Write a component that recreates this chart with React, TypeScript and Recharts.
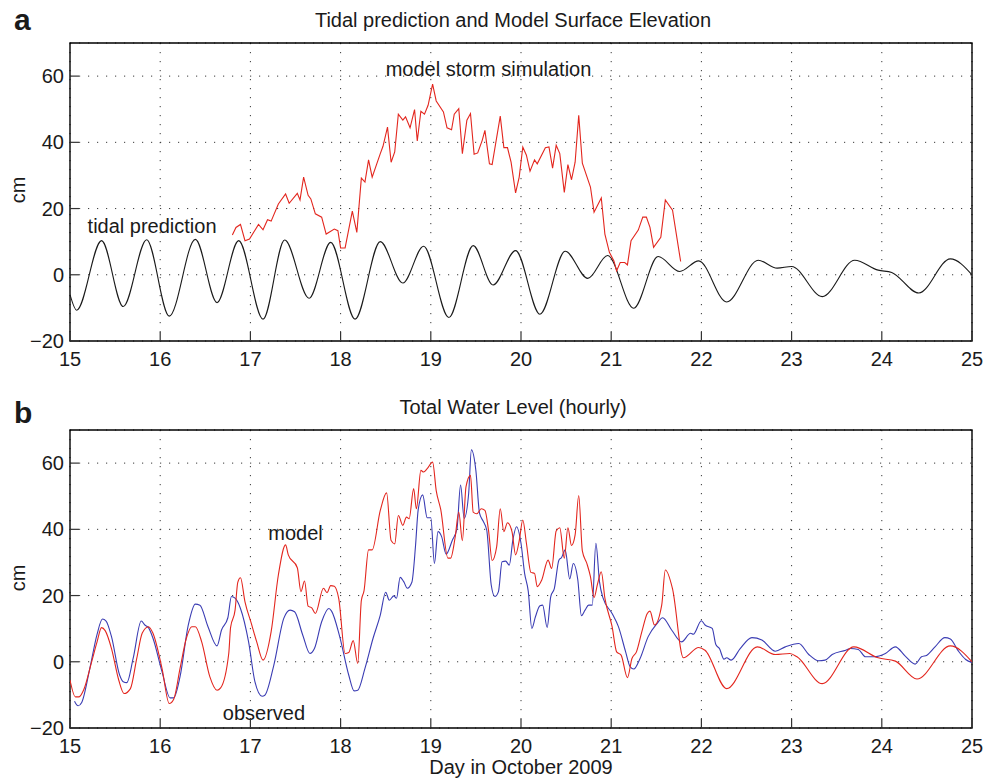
import { LineChart, Line, XAxis, YAxis, CartesianGrid, ReferenceDot, ReferenceArea } from "recharts";

// axes
const dayTicks = [15, 16, 17, 18, 19, 20, 21, 22, 23, 24, 25];
const cmTicks = [-20, 0, 20, 40, 60];

// panel a: tidal prediction (black)
const tideDays = [
  15.0, 15.074, 15.35, 15.59, 15.85, 16.1, 16.39, 16.63, 16.87, 17.14, 17.38, 17.65, 17.89, 18.16,
  18.44, 18.69, 18.92, 19.2, 19.47, 19.69, 19.94, 20.21, 20.49, 20.74, 20.96, 21.25, 21.52, 21.76,
  21.97, 22.28, 22.63, 22.84, 23.0, 23.34, 23.7, 23.96, 24.11, 24.41, 24.76, 25.0,
];
const tideCm = [
  -6, -10.7, 10.3, -9.6, 10.6, -12.5, 10.7, -8.4, 10.3, -13.4, 10.5, -7.1, 9.8, -13.4,
  10.0, -2.5, 8.6, -12.9, 8.8, -3.1, 7.3, -11.9, 7.1, -1.1, 5.8, -10.1, 5.5, 1.0,
  4.2, -8.2, 4.4, 2.0, 2.5, -6.6, 4.4, 1.4, 0.7, -5.5, 4.8, 0,
];

// panel a: model storm simulation (red)
const stormDays = [
  16.8, 16.84, 16.89, 16.94, 16.99, 17.09, 17.14, 17.19, 17.23, 17.31, 17.39, 17.43, 17.52, 17.55,
  17.59, 17.64, 17.67, 17.72, 17.79, 17.84, 17.93, 17.97, 18.0, 18.05, 18.13, 18.18, 18.23, 18.27,
  18.31, 18.35, 18.44, 18.47, 18.52, 18.56, 18.6, 18.64, 18.69, 18.72, 18.77, 18.82, 18.85, 18.89,
  18.93, 18.97, 19.02, 19.06, 19.14, 19.18, 19.23, 19.26, 19.31, 19.35, 19.4, 19.44, 19.48, 19.52,
  19.57, 19.6, 19.65, 19.68, 19.77, 19.81, 19.85, 19.89, 19.94, 19.98, 20.02, 20.06, 20.1, 20.15,
  20.18, 20.27, 20.31, 20.35, 20.39, 20.43, 20.48, 20.52, 20.56, 20.6, 20.64, 20.68, 20.77, 20.81,
  20.89, 20.93, 20.98, 21.03, 21.06, 21.1, 21.15, 21.18, 21.22, 21.3, 21.35, 21.39, 21.43, 21.47,
  21.55, 21.6, 21.68, 21.77,
];
const stormCm = [
  12.0, 14.3, 15.2, 10.3, 10.8, 15.2, 13.6, 16.6, 16.2, 21.4, 24.4, 21.6, 24.6, 22.6,
  29.5, 24.0, 22.9, 18.4, 17.4, 12.3, 13.8, 13.3, 8.1, 8.1, 19.2, 12.8, 29.2, 28.0,
  34.7, 29.5, 36.6, 38.8, 44.6, 34.0, 37.1, 48.5, 46.7, 47.7, 44.4, 49.9, 40.4, 49.4,
  48.5, 51.2, 57.6, 52.5, 49.2, 44.4, 43.8, 48.5, 50.2, 36.6, 46.7, 48.7, 36.4, 36.8,
  40.6, 43.6, 33.5, 33.3, 47.9, 38.4, 38.4, 34.0, 24.7, 29.5, 38.6, 36.1, 31.3, 34.7,
  33.5, 38.4, 38.6, 32.2, 39.1, 36.6, 24.9, 33.3, 28.7, 34.0, 48.2, 33.7, 26.5, 18.9,
  23.2, 12.3, 6.8, 4.2, 1.2, 3.7, 3.7, 3.0, 10.3, 13.5, 17.4, 17.4, 14.3, 8.3,
  11.3, 22.6, 19.5, 4.0,
];

// panel b: model total water level (red)
const modelDays = [
  15.0, 15.06, 15.1, 15.15, 15.24, 15.3, 15.35, 15.39, 15.46, 15.54, 15.6, 15.67, 15.74, 15.8,
  15.87, 15.92, 16.02, 16.1, 16.15, 16.22, 16.29, 16.35, 16.39, 16.46, 16.55, 16.63, 16.67, 16.76,
  16.78, 16.83, 16.86, 16.89, 16.94, 17.01, 17.07, 17.14, 17.23, 17.31, 17.39, 17.42, 17.52, 17.56,
  17.6, 17.64, 17.68, 17.72, 17.81, 17.85, 17.89, 17.93, 17.98, 18.05, 18.09, 18.14, 18.19, 18.23,
  18.26, 18.31, 18.35, 18.44, 18.51, 18.56, 18.6, 18.64, 18.69, 18.73, 18.76, 18.81, 18.84, 18.89,
  18.92, 18.96, 19.02, 19.06, 19.11, 19.19, 19.22, 19.27, 19.31, 19.35, 19.39, 19.44, 19.47, 19.51,
  19.56, 19.6, 19.64, 19.68, 19.73, 19.77, 19.81, 19.85, 19.9, 19.94, 19.98, 20.02, 20.06, 20.11,
  20.15, 20.18, 20.23, 20.3, 20.34, 20.39, 20.43, 20.48, 20.52, 20.56, 20.6, 20.64, 20.68, 20.73,
  20.77, 20.81, 20.85, 20.89, 20.93, 21.01, 21.06, 21.11, 21.18, 21.23, 21.28, 21.34, 21.4, 21.43,
  21.48, 21.56, 21.6, 21.68, 21.8, 21.97, 22.04, 22.28, 22.62, 22.82, 22.98, 23.06, 23.34, 23.69,
  23.96, 24.15, 24.39, 24.76, 25.0,
];
const modelCm = [
  -5.5, -10.6, -10.6, -8.6, 0, 6.0, 10.3, 9.4, 4.0, -5.5, -9.6, -8.1, 1.0, 8.6,
  10.6, 8.6, -2.0, -12.6, -11.3, -2.0, 7.1, 10.6, 10.6, 6.0, -4.5, -8.6, -7.9, 2.5,
  10.3, 15.6, 24.0, 25.4, 18.1, 11.6, 6.0, 0.5, 9.1, 26.2, 35.3, 32.3, 28.4, 21.2,
  24.4, 16.8, 16.3, 14.6, 22.2, 20.9, 23.0, 22.8, 19.0, 2.5, 2.8, 6.4, -0.5, 18.5,
  21.5, 33.8, 33.8, 45.7, 51.0, 36.6, 35.6, 44.2, 41.2, 43.7, 43.2, 52.3, 46.2, 57.8,
  57.3, 58.3, 60.3, 51.7, 46.0, 31.3, 31.3, 37.6, 45.2, 36.6, 52.8, 56.3, 45.2, 44.7,
  46.2, 45.7, 39.7, 30.6, 34.7, 46.2, 39.3, 42.0, 39.3, 32.3, 36.5, 42.8, 35.8, 27.0,
  26.7, 22.7, 24.7, 30.7, 28.2, 39.5, 40.5, 31.3, 40.5, 35.1, 38.3, 50.2, 33.5, 29.7,
  25.7, 19.4, 23.7, 27.2, 19.2, 10.6, 3.0, 2.0, -4.8, 1.0, 3.0, 9.1, 14.6, 15.3,
  11.1, 17.1, 27.7, 22.0, 1.2, 4.3, 3.5, -8.1, 4.5, 2.2, 2.5, 1.5, -6.6, 4.5,
  1.2, 0.2, -5.2, 4.8, 0,
];

// panel b: observed total water level (blue)
const obsDays = [
  15.05, 15.09, 15.13, 15.22, 15.3, 15.36, 15.4, 15.46, 15.55, 15.59, 15.63, 15.7, 15.79, 15.83,
  15.87, 15.92, 16.02, 16.11, 16.15, 16.22, 16.31, 16.39, 16.44, 16.53, 16.63, 16.68, 16.75, 16.79,
  16.83, 16.89, 16.98, 17.05, 17.13, 17.16, 17.26, 17.37, 17.44, 17.49, 17.58, 17.66, 17.71, 17.79,
  17.87, 17.9, 17.99, 18.09, 18.15, 18.19, 18.27, 18.36, 18.44, 18.5, 18.54, 18.59, 18.62, 18.66,
  18.7, 18.74, 18.79, 18.83, 18.86, 18.91, 18.96, 19.0, 19.04, 19.08, 19.12, 19.17, 19.24, 19.29,
  19.33, 19.37, 19.42, 19.45, 19.5, 19.54, 19.58, 19.62, 19.67, 19.71, 19.75, 19.79, 19.83, 19.87,
  19.91, 19.95, 20.0, 20.04, 20.08, 20.12, 20.16, 20.21, 20.24, 20.29, 20.33, 20.37, 20.42, 20.45,
  20.49, 20.54, 20.58, 20.63, 20.67, 20.71, 20.75, 20.79, 20.83, 20.87, 20.91, 21.01, 21.08, 21.16,
  21.21, 21.25, 21.32, 21.41, 21.51, 21.57, 21.67, 21.78, 21.88, 21.91, 22.0, 22.04, 22.12, 22.16,
  22.2, 22.25, 22.28, 22.33, 22.43, 22.56, 22.67, 22.82, 22.93, 23.08, 23.19, 23.3, 23.37, 23.45,
  23.6, 23.65, 23.74, 23.82, 23.91, 24.04, 24.15, 24.26, 24.37, 24.44, 24.5, 24.59, 24.7, 24.76,
  24.85, 24.93, 25.0,
];
const obsCm = [
  -11.9, -13.3, -12.3, -2.0, 8.3, 12.9, 12.3, 7.6, -4.0, -6.0, -6.3, 1.0, 12.3, 11.1,
  10.3, 7.1, -3.0, -10.9, -10.9, -4.5, 10.9, 17.4, 17.1, 10.6, 4.8, 9.6, 13.3, 19.7,
  19.2, 16.1, 6.0, -6.0, -10.4, -10.1, -1.0, 13.1, 15.6, 15.1, 8.1, 2.5, 4.0, 12.1,
  16.1, 15.3, 7.6, -4.0, -8.8, -8.6, -2.0, 7.1, 14.1, 21.0, 18.6, 19.9, 19.2, 25.5,
  24.2, 22.2, 24.0, 34.8, 45.9, 50.4, 43.5, 43.5, 29.7, 39.3, 37.8, 32.5, 36.8, 40.1,
  53.4, 43.3, 50.9, 64.0, 57.7, 44.9, 42.5, 39.8, 23.2, 19.7, 21.2, 30.2, 30.4, 29.2,
  36.8, 40.8, 35.8, 26.7, 21.4, 10.1, 13.6, 16.9, 17.1, 10.4, 19.7, 22.2, 30.7, 31.5,
  33.8, 25.0, 29.7, 24.7, 13.9, 15.6, 17.1, 17.1, 35.8, 24.2, 19.2, 14.6, 10.6, 3.0,
  -1.5, -2.2, 1.0, 7.6, 11.6, 13.3, 9.6, 6.0, 8.6, 8.3, 12.4, 11.1, 10.1, 5.2,
  4.0, 0.8, 1.2, 0.5, 4.0, 7.3, 6.6, 3.2, 4.5, 5.5, 2.2, 0.3, 0.5, 2.2,
  3.5, 4.0, 3.7, 1.5, 1.5, 2.5, 4.5, 1.7, -0.7, 1.5, 2.0, 4.5, 7.3, 6.9,
  3.2, 0.7, -0.2,
];

const toPoints = (days: number[], cm: number[]) => days.map((d, i) => ({ day: d, cm: cm[i] }));

const font = "'Liberation Sans', Arial, Helvetica, sans-serif";
const ink = "#1a1a1a";
const red = "#e3261e";
const blue = "#3a3cb3";
const TICK = 9;

function fmtCm(v: number) {
  return v < 0 ? `\u2212${Math.abs(v)}` : `${v}`;
}

function BottomTick(props: any) {
  const { x, y, payload } = props;
  return (
    <g>
      <line x1={x} y1={y} x2={x} y2={y - TICK} stroke="#333" strokeWidth={1.2} />
      <text x={x} y={y + 25} textAnchor="middle" fontSize={20} fontFamily={font} fill={ink}>
        {payload.value}
      </text>
    </g>
  );
}

function TopTick(props: any) {
  const { x, y } = props;
  return <line x1={x} y1={y} x2={x} y2={y + TICK} stroke="#333" strokeWidth={1.2} />;
}

function LeftTick(props: any) {
  const { x, y, payload } = props;
  return (
    <g>
      <line x1={x} y1={y} x2={x + TICK} y2={y} stroke="#333" strokeWidth={1.2} />
      <text x={x - 6} y={y + 7} textAnchor="end" fontSize={20} fontFamily={font} fill={ink}>
        {fmtCm(payload.value)}
      </text>
    </g>
  );
}

function RightTick(props: any) {
  const { x, y } = props;
  return <line x1={x} y1={y} x2={x - TICK} y2={y} stroke="#333" strokeWidth={1.2} />;
}

function noteLabel(text: string) {
  return (p: any) => {
    const vb = p.viewBox || {};
    return (
      <text
        x={(vb.x ?? 0) + (vb.width ?? 0) / 2}
        y={(vb.y ?? 0) + (vb.height ?? 0) / 2}
        textAnchor="middle"
        fontSize={20}
        fontFamily={font}
        fill={ink}
      >
        {text}
      </text>
    );
  };
}

interface Series {
  points: { day: number; cm: number }[];
  color: string;
  curve: "linear" | "monotone";
}

interface Note {
  day: number;
  cm: number;
  text: string;
}

function Panel({ height, marginTop, marginBottom, series, notes }: {
  height: number;
  marginTop: number;
  marginBottom: number;
  series: Series[];
  notes: Note[];
}) {
  return (
    <LineChart width={995} height={height} margin={{ top: marginTop, right: 23, bottom: marginBottom, left: 0 }}>
      <CartesianGrid stroke="#3a3a3a" strokeDasharray="1.2 7.8" />
      <XAxis
        dataKey="day"
        type="number"
        domain={[15, 25]}
        ticks={dayTicks}
        interval={0}
        allowDataOverflow
        height={30}
        tickSize={0}
        tickMargin={0}
        tickLine={false}
        axisLine={false}
        tick={BottomTick}
      />
      <XAxis
        xAxisId="top"
        orientation="top"
        dataKey="day"
        type="number"
        domain={[15, 25]}
        ticks={dayTicks}
        interval={0}
        allowDataOverflow
        height={0}
        tickSize={0}
        tickMargin={0}
        tickLine={false}
        axisLine={false}
        tick={TopTick}
      />
      <YAxis
        type="number"
        domain={[-20, 70]}
        ticks={cmTicks}
        interval={0}
        allowDataOverflow
        width={70}
        tickSize={0}
        tickMargin={0}
        tickLine={false}
        axisLine={false}
        tick={LeftTick}
      />
      <YAxis
        yAxisId="right"
        orientation="right"
        type="number"
        domain={[-20, 70]}
        ticks={cmTicks}
        interval={0}
        allowDataOverflow
        width={0}
        tickSize={0}
        tickMargin={0}
        tickLine={false}
        axisLine={false}
        tick={RightTick}
      />
      <ReferenceArea
        x1={15}
        x2={25}
        y1={-20}
        y2={70}
        fill="none"
        fillOpacity={0}
        stroke="#000"
        strokeWidth={1.4}
        ifOverflow="visible"
      />
      {series.map((s, i) => (
        <Line
          key={i}
          data={s.points}
          dataKey="cm"
          type={s.curve}
          stroke={s.color}
          strokeWidth={1.1}
          dot={false}
          activeDot={false}
          isAnimationActive={false}
        />
      ))}
      {notes.map((n) => (
        <ReferenceDot key={n.text} x={n.day} y={n.cm} r={0} ifOverflow="visible" label={noteLabel(n.text)} />
      ))}
    </LineChart>
  );
}

const panelA: Series[] = [
  { points: toPoints(tideDays, tideCm), color: ink, curve: "monotone" },
  { points: toPoints(stormDays, stormCm), color: red, curve: "linear" },
];
const panelB: Series[] = [
  { points: toPoints(obsDays, obsCm), color: blue, curve: "monotone" },
  { points: toPoints(modelDays, modelCm), color: red, curve: "monotone" },
];
const notesA: Note[] = [
  { day: 15.91, cm: 12.7, text: "tidal prediction" },
  { day: 19.64, cm: 60.1, text: "model storm simulation" },
];
const notesB: Note[] = [
  { day: 17.5, cm: 36.7, text: "model" },
  { day: 17.15, cm: -17.6, text: "observed" },
];

export default function App() {
  return (
    <div style={{ position: "absolute", left: 0, top: 0, width: 995, height: 779, background: "#fff" }}>
      <div style={{ position: "absolute", left: 0, top: 0 }}>
        <Panel height={390} marginTop={43} marginBottom={19} series={panelA} notes={notesA} />
      </div>
      <div style={{ position: "absolute", left: 0, top: 390 }}>
        <Panel height={389} marginTop={40} marginBottom={21} series={panelB} notes={notesB} />
      </div>
      <svg
        width={995}
        height={779}
        style={{ position: "absolute", left: 0, top: 0, pointerEvents: "none" }}
        fontFamily={font}
        fill={ink}
      >
        <text x={14} y={30} fontSize={30} fontWeight="bold">a</text>
        <text x={513} y={27} fontSize={20} textAnchor="middle">Tidal prediction and Model Surface Elevation</text>
        <text x={14} y={423} fontSize={30} fontWeight="bold">b</text>
        <text x={513} y={414} fontSize={20} textAnchor="middle">Total Water Level (hourly)</text>
        <text transform="translate(25,190) rotate(-90)" fontSize={20} textAnchor="middle">cm</text>
        <text transform="translate(25,578) rotate(-90)" fontSize={20} textAnchor="middle">cm</text>
        <text x={521} y={774} fontSize={20} textAnchor="middle">Day in October 2009</text>
      </svg>
    </div>
  );
}
